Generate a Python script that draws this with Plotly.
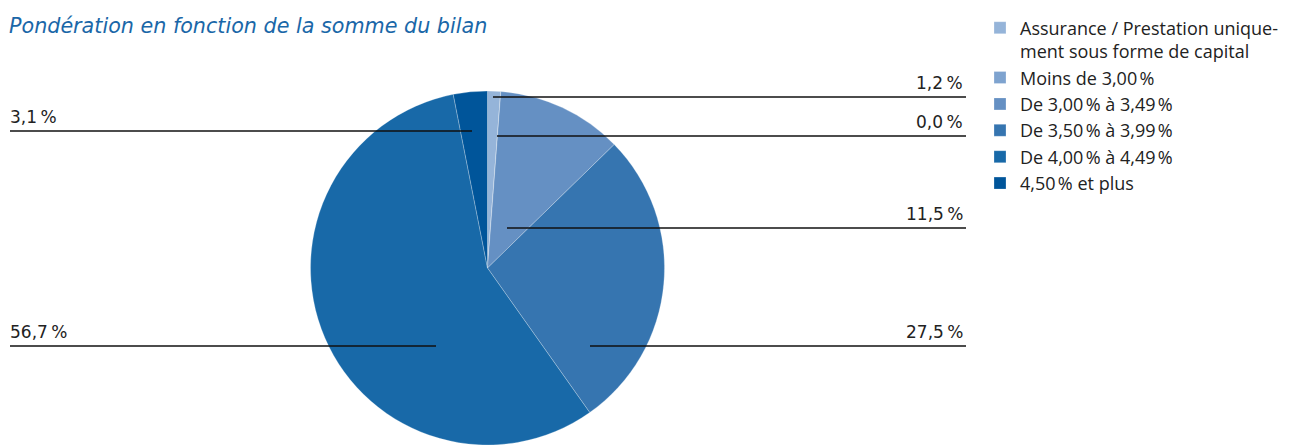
import plotly.graph_objects as go

W, H = 1296, 445

categories = [
    "Assurance / Prestation unique-<br>ment sous forme de capital",
    "Moins de 3,00\u202f%",
    "De 3,00\u202f% à 3,49\u202f%",
    "De 3,50\u202f% à 3,99\u202f%",
    "De 4,00\u202f% à 4,49\u202f%",
    "4,50\u202f% et plus",
]
values = [1.2, 0.0, 11.5, 27.5, 56.7, 3.1]
value_labels = ["1,2\u2009%", "0,0\u2009%", "11,5\u2009%", "27,5\u2009%", "56,7\u2009%", "3,1\u2009%"]
colors = ["#95b4d9", "#7ea3cf", "#6590c3", "#3675b0", "#1869a8", "#00559a"]

# leader-line layout (pixels): (y, x_start, x_end, side)
leaders = [
    (97, 493, 966, "right"),
    (136, 497, 966, "right"),
    (228, 507, 966, "right"),
    (346, 590, 966, "right"),
    (346, 10, 436, "left"),
    (131, 10, 472, "left"),
]

FONT = "Open Sans, Noto Sans, sans-serif"
FONT2 = "DejaVu Sans, sans-serif"

cx, r = 487.5, 177
top = 91
fig = go.Figure()
fig.add_trace(go.Pie(
    labels=categories,
    values=values,
    sort=False,
    direction="clockwise",
    rotation=0,
    textinfo="none",
    hoverinfo="label+percent",
    marker=dict(colors=colors, line=dict(color="rgba(255,255,255,0.25)", width=1)),
    domain=dict(x=[(cx - r) / W, (cx + r) / W], y=[0, 1 - top / H]),
    showlegend=True,
))

shapes = []
annotations = []
for (y, x0, x1, side), lab in zip(leaders, value_labels):
    shapes.append(dict(type="line", xref="paper", yref="paper",
                       x0=x0 / W, x1=x1 / W, y0=1 - y / H, y1=1 - y / H,
                       line=dict(color="#111111", width=1.5)))
    if side == "right":
        annotations.append(dict(x=(x1 - 1) / W, y=1 - (y - 2) / H, xref="paper", yref="paper",
                                text=lab, showarrow=False, xanchor="right", yanchor="bottom",
                                font=dict(family=FONT2, size=17, color="#222222")))
    else:
        annotations.append(dict(x=(x0 - 2) / W, y=1 - (y - 2) / H, xref="paper", yref="paper",
                                text=lab, showarrow=False, xanchor="left", yanchor="bottom",
                                font=dict(family=FONT2, size=17, color="#222222")))

annotations.append(dict(x=7 / W, y=1 - 12 / H, xref="paper", yref="paper",
                        text="<i>Pondération en fonction de la somme du bilan</i>",
                        showarrow=False, xanchor="left", yanchor="top",
                        font=dict(family=FONT2, size=20.7, color="#1a67a8")))

fig.update_layout(
    width=W, height=H,
    margin=dict(l=0, r=0, t=0, b=0),
    paper_bgcolor="white", plot_bgcolor="white",
    shapes=shapes, annotations=annotations,
    legend=dict(x=980 / W, y=1 - 9.5 / H, xanchor="left", yanchor="top",
                valign="top",
                font=dict(family=FONT, size=18, color="#222222"),
                traceorder="normal", bgcolor="rgba(0,0,0,0)"),
)

fig.write_html("out.html")
